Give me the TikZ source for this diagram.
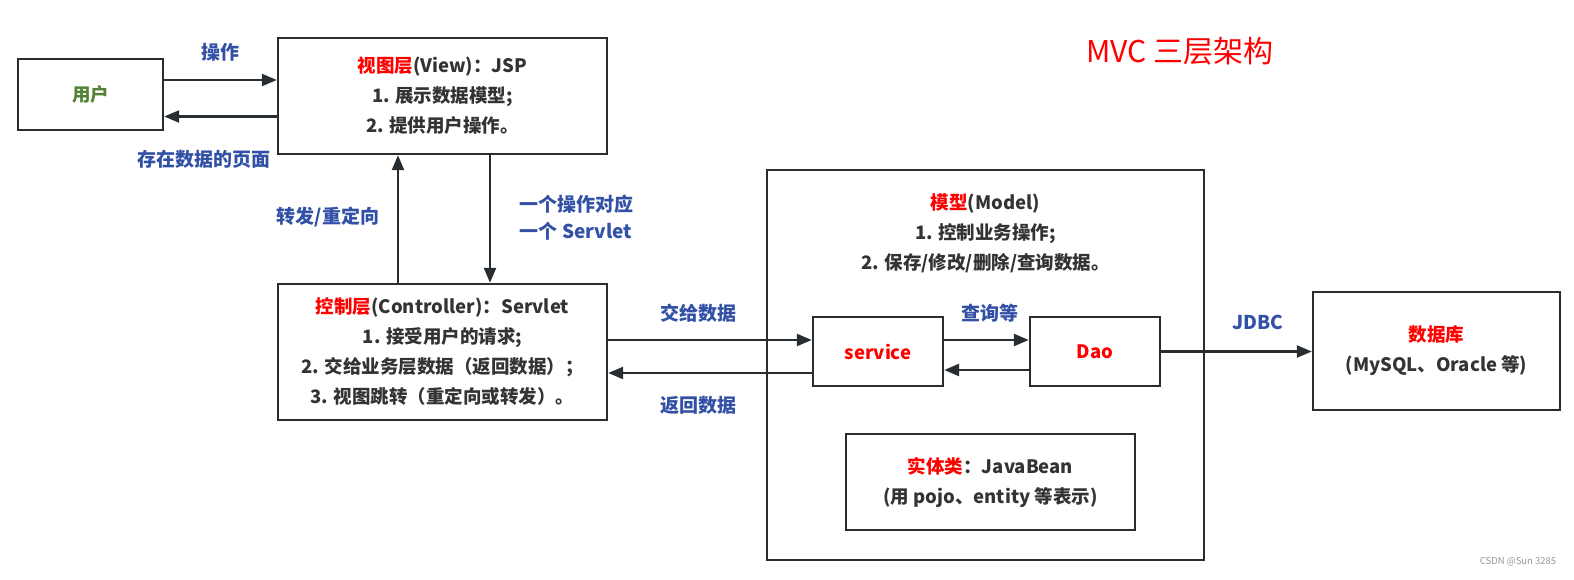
\documentclass[tikz,border=0pt]{standalone}
\usepackage{fontspec}
\setmainfont{Noto Sans CJK SC}
\usetikzlibrary{arrows.meta}
\definecolor{txt}{RGB}{51,51,51}
\definecolor{bord}{RGB}{40,45,50}
\definecolor{lblue}{RGB}{50,80,165}
\definecolor{ugreen}{RGB}{84,130,53}
\definecolor{wm}{RGB}{150,150,150}
\tikzset{
  box/.style={draw=bord, line width=2.4pt, rectangle, align=center, text=txt,
    font=\bfseries\fontsize{18.5}{30}\selectfont, inner sep=0pt},
  arr/.style={draw=bord, line width=2.4pt, -{Triangle[length=15pt,width=12pt]}},
  lbl/.style={text=lblue, font=\bfseries\fontsize{19}{27}\selectfont, align=center, inner sep=0pt},
}
\begin{document}
\begin{tikzpicture}[x=1pt,y=-1pt]
\useasboundingbox (0,0) rectangle (1574,580);
\node[box, minimum width=145pt, minimum height=71pt] (user) at (90.5,94.5) {\textcolor{ugreen}{用户}};
\node[box, minimum width=329pt, minimum height=116pt] (view) at (442.5,96)
  {\textcolor{red}{视图层}(View)：JSP\\1. 展示数据模型;\\2. 提供用户操作。};
\node[box, minimum width=329pt, minimum height=136pt] (ctrl) at (442.5,352)
  {\textcolor{red}{控制层}(Controller)：Servlet\\1. 接受用户的请求;\\2. 交给业务层数据（返回数据）；\\3. 视图跳转（重定向或转发）。};
\node[box, minimum width=437pt, minimum height=390pt] (model) at (985.5,365) {};
\node[text=txt, font=\bfseries\fontsize{18.5}{30}\selectfont, align=center, inner sep=0pt] (mtext) at (985.5,233)
  {\textcolor{red}{模型}(Model)\\1. 控制业务操作;\\2. 保存/修改/删除/查询数据。};
\node[box, minimum width=130pt, minimum height=69pt] (svc) at (878,351.5) {\textcolor{red}{service}};
\node[box, minimum width=130pt, minimum height=69pt] (dao) at (1095,351.5) {\textcolor{red}{Dao}};
\node[box, minimum width=289pt, minimum height=96pt] (ent) at (990.5,482)
  {\textcolor{red}{实体类}：JavaBean\\(用 pojo、entity 等表示)};
\node[box, minimum width=247pt, minimum height=118pt] (db) at (1436.5,351)
  {\textcolor{red}{数据库}\\(MySQL、Oracle 等)};
\node[text=red, font=\fontsize{30}{34}\selectfont, inner sep=0pt] (title) at (1180,51) {MVC 三层架构};
\node[text=wm, font=\fontsize{9.5}{12}\selectfont, inner sep=0pt] (wmk) at (1518,562) {CSDN @Sun 3285};

\draw[arr] ([yshift=14.5pt]user.east) -- ([yshift=14.5pt]user.east -| view.west);
\draw[arr] ([yshift=-20.5pt]view.west) -- ([yshift=-20.5pt]view.west -| user.east);
\draw[arr] ([xshift=-44.5pt]ctrl.north) -- ([xshift=-44.5pt]ctrl.north |- view.south);
\draw[arr] ([xshift=47.5pt]view.south) -- ([xshift=47.5pt]view.south |- ctrl.north);
\draw[arr] ([yshift=11.5pt]ctrl.east |- svc.west) -- ([yshift=11.5pt]svc.west);
\draw[arr] ([yshift=-21.5pt]svc.west) -- ([yshift=-21.5pt]svc.west -| ctrl.east);
\draw[arr] ([yshift=11.5pt]svc.east) -- ([yshift=11.5pt]dao.west);
\draw[arr] ([yshift=-18.5pt]dao.west) -- ([yshift=-18.5pt]svc.east);
\draw[arr] (dao.east) -- (dao.east -| db.west);

\node[lbl] (l1) at (220,52) {操作};
\node[lbl] (l2) at (204,159) {存在数据的页面};
\node[lbl] (l3) at (328,217) {转发/重定向};
\node[lbl] (l4) at (576,218) {一个操作对应\\一个 Servlet};
\node[lbl] (l5) at (698,313) {交给数据};
\node[lbl] (l6) at (698,405) {返回数据};
\node[lbl] (l7) at (990,313) {查询等};
\node[lbl] (l8) at (1258,322) {JDBC};
\end{tikzpicture}
\end{document}
